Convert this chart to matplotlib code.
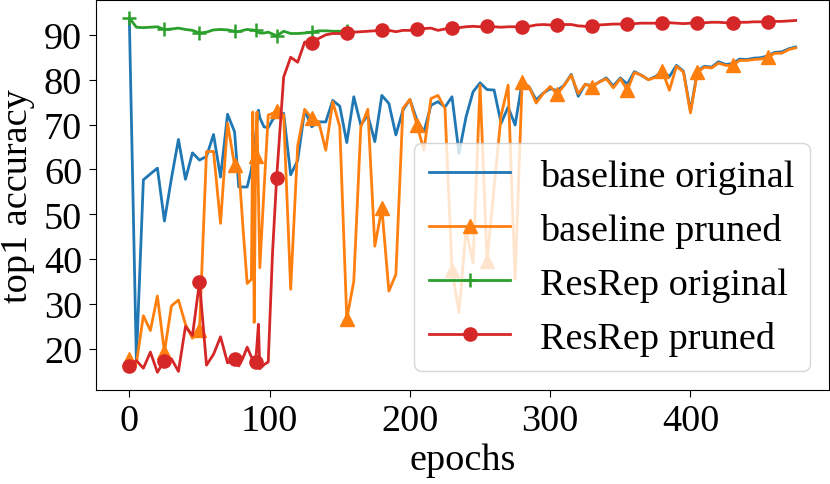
import numpy as np
import matplotlib
matplotlib.use("Agg")
import matplotlib.pyplot as plt

plt.rcParams['font.family'] = ['Liberation Serif', 'DejaVu Serif']
plt.rcParams['font.size'] = 27.5

# epochs (logged every 5, denser around the pruning restart)
epochs = np.r_[0:80:5, [78, 81, 84, 87, 88, 89, 90, 91, 92, 93, 96, 99, 102, 105], 110:480:5]

base_orig = [93.5, 17.4, 57.7, 59.0, 60.3, 48.5, 58.0, 66.7, 57.8, 63.7,
             62.1, 62.9, 67.8, 58.3, 72.3, 68.4, 56.1, 56.1, 56.1, 60.0,
             62.5, 65.0, 67.5, 70.5, 73.2, 71.5, 69.5, 69.3, 71.0, 72.1,
             72.5, 58.8, 62.0, 73.2, 69.5, 70.6, 70.6, 75.4, 74.1, 66.0,
             76.2, 69.9, 72.1, 66.2, 76.5, 74.7, 67.7, 73.2, 75.6, 71.0,
             68.4, 74.3, 75.1, 73.9, 76.2, 63.6, 71.7, 77.3, 79.3, 77.8,
             77.7, 70.3, 73.9, 69.9, 79.5, 78.4, 75.5, 77.0, 78.0, 77.6,
             78.8, 81.2, 76.3, 79.0, 78.6, 79.5, 80.4, 78.6, 80.4, 79.0,
             81.8, 81.0, 80.0, 80.7, 82.0, 80.7, 83.2, 81.9, 73.0, 82.0,
             83.0, 82.8, 84.0, 83.4, 83.6, 84.6, 84.5, 84.8, 84.9, 85.3,
             86.1, 86.2, 86.9, 87.3]

base_pruned = [17.8, 16.8, 27.4, 24.1, 31.8, 19.3, 29.6, 30.9, 25.5, 22.4,
               24.2, 64.0, 64.0, 48.0, 70.3, 61.0, 60.7, 47.0, 34.6, 35.5,
               72.8, 25.9, 63.0, 72.8, 55.0, 38.1, 55.5, 72.1, 72.5, 73.0,
               72.1, 33.3, 65.3, 73.4, 71.4, 70.6, 64.3, 75.1, 69.5, 26.7,
               35.1, 69.5, 73.4, 42.9, 51.4, 32.9, 36.6, 73.6, 75.6, 69.9,
               64.3, 75.8, 76.5, 73.6, 37.7, 28.1, 46.6, 39.2, 78.8, 39.6,
               56.0, 72.0, 78.8, 35.5, 79.5, 78.4, 74.8, 76.9, 78.5, 76.8,
               78.75, 81.0, 76.9, 79.0, 78.4, 79.5, 80.2, 78.2, 80.2, 77.65,
               81.6, 81.0, 80.0, 80.5, 81.9, 77.65, 83.0, 81.7, 72.6, 81.7,
               82.8, 82.6, 83.7, 83.2, 83.2, 84.3, 84.3, 84.5, 84.6, 85.0,
               85.9, 85.9, 86.7, 87.1]

resrep_orig = [93.8, 91.7, 91.6, 91.7, 91.8, 91.2, 91.3, 91.5, 91.2, 91.0,
               90.4, 90.6, 91.1, 91.2, 91.1, 90.8, 90.7, 91.0, 91.2, 91.1,
               91.1, 91.0, 91.0, 90.8, 90.6, 90.4, 90.4, 90.6, 90.2, 89.8,
               90.8, 90.3, 90.3, 90.4, 90.6, 90.9, 90.9, 90.8, 90.8, 90.9]

resrep_pruned = [16.3, 17.4, 15.7, 19.3, 14.8, 17.4, 17.8, 15.0, 25.0, 23.0,
                 34.9, 16.4, 18.8, 22.7, 16.9, 17.7, 16.2, 18.0, 20.4, 18.2,
                 18.0, 17.5, 17.1, 21.0, 25.5, 15.6, 16.5, 17.1, 41.0, 58.1,
                 80.6, 85.0, 83.9, 88.4, 88.2, 89.2, 90.0, 90.3, 90.3, 90.4,
                 90.6, 90.7, 90.8, 90.9, 91.1, 91.0, 90.7, 91.0, 91.0, 91.3,
                 91.4, 91.5, 91.0, 91.3, 91.5, 91.6, 91.8, 91.9, 91.8, 91.9,
                 91.8, 91.7, 91.8, 91.8, 91.7, 91.9, 92.2, 92.3, 92.2, 92.3,
                 92.3, 92.3, 92.0, 91.9, 91.9, 92.2, 92.3, 92.4, 92.4, 92.4,
                 92.5, 92.6, 92.6, 92.6, 92.7, 92.7, 92.6, 92.5, 92.6, 92.6,
                 92.7, 92.8, 92.8, 92.7, 92.75, 92.8, 92.8, 92.9, 92.9, 92.95,
                 93.0, 93.0, 93.1, 93.2]

labels = ['baseline original', 'baseline pruned', 'ResRep original', 'ResRep pruned']

# markers sit every 25 epochs, plus the restart at 90
mark_ep = [0, 25, 50, 75, 90] + list(range(105, 476, 25))
marks = list(np.searchsorted(epochs, mark_ep))

fig = plt.figure(figsize=(8.3, 4.85), dpi=100)
ax = fig.add_axes([0.1157, 0.1938, 0.8831, 0.804])

lw = 2.0
ax.plot(epochs, base_orig, color='C0', lw=lw, label=labels[0])
ax.plot(epochs, base_pruned, color='C1', lw=lw, marker='^', ms=10,
        markevery=marks, label=labels[1])
n = len(resrep_orig)
ax.plot(epochs[:n], resrep_orig, color='C2', lw=lw, marker='+', ms=10, mew=1.8,
        markevery=[m for m in marks if m < n], label=labels[2])
ax.plot(epochs, resrep_pruned, color='C3', lw=lw, marker='o', ms=9.5,
        markevery=marks, label=labels[3])

ax.set_xticks([0, 100, 200, 300, 400])
ax.set_yticks([20, 30, 40, 50, 60, 70, 80, 90])
ax.tick_params(length=5, pad=5)
ax.set_xlabel('epochs', labelpad=3)
ax.set_ylabel('top1 accuracy', labelpad=6)
ax.legend(loc='lower right', fontsize=27.5, handlelength=2.1)

fig.savefig('out.png', dpi=100)
